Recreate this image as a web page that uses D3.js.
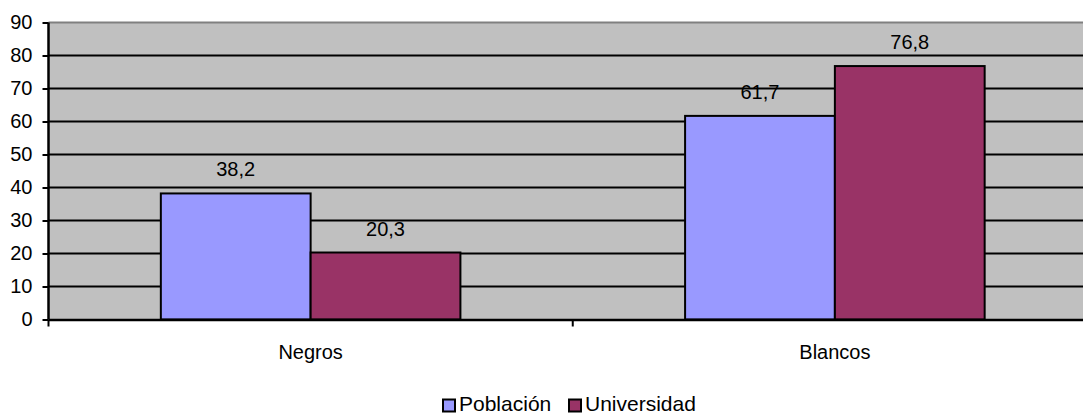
<!DOCTYPE html>
<html>
<head>
<meta charset="utf-8">
<script src="https://cdn.jsdelivr.net/npm/d3@7"></script>
<style>
  body { margin: 0; background: #fff; }
  svg { display: block; font-family: "Liberation Sans", Arial, sans-serif; }
</style>
</head>
<body>
<svg id="chart" width="1083" height="416"></svg>
<script>
const categories = ["Negros", "Blancos"];
const seriesNames = ["Población", "Universidad"];
const poblacion = [38.2, 61.7];
const universidad = [20.3, 76.8];
const yTicks = [0, 10, 20, 30, 40, 50, 60, 70, 80, 90];
const colors = ["#9999FF", "#993366"];

(function () {
const svg = d3.select("#chart");
const mLeft = 48.5, mRight = 1097, mTop = 22.5, mBottom = 319.5;

const x0 = d3.scaleBand().domain(categories).range([mLeft, mRight]).paddingInner(0).paddingOuter(0);
const x1 = d3.scaleBand().domain(seriesNames).range([0, x0.bandwidth()]).paddingInner(0).paddingOuter(0.75);
const y = d3.scaleLinear().domain([0, 90]).range([mBottom, mTop]);
const color = d3.scaleOrdinal().domain(seriesNames).range(colors);

const data = categories.map((c, i) => ({
  category: c,
  values: [
    { series: seriesNames[0], value: poblacion[i] },
    { series: seriesNames[1], value: universidad[i] }
  ]
}));

// plot background
svg.append("rect").attr("x", mLeft).attr("y", mTop).attr("width", mRight - mLeft).attr("height", mBottom - mTop)
  .attr("fill", "#C0C0C0");
// top border
svg.append("line").attr("x1", mLeft).attr("x2", mRight).attr("y1", mTop).attr("y2", mTop)
  .attr("stroke", "#808080").attr("stroke-width", 2);

// gridlines
svg.append("g").selectAll("line").data(yTicks.filter(t => t > 0 && t < 90)).join("line")
  .attr("x1", mLeft).attr("x2", mRight)
  .attr("y1", d => y(d)).attr("y2", d => y(d))
  .attr("stroke", "#000").attr("stroke-width", 2);

// bars
const groups = svg.append("g").selectAll("g").data(data).join("g")
  .attr("transform", d => `translate(${x0(d.category)},0)`);
groups.selectAll("rect").data(d => d.values).join("rect")
  .attr("x", d => x1(d.series))
  .attr("y", d => y(d.value))
  .attr("width", x1.bandwidth())
  .attr("height", d => y(0) - y(d.value))
  .attr("fill", d => color(d.series))
  .attr("stroke", "#000").attr("stroke-width", 2);

// value labels
groups.selectAll("text").data(d => d.values).join("text")
  .attr("x", d => x1(d.series) + x1.bandwidth() / 2)
  .attr("y", d => y(d.value) - 17)
  .attr("text-anchor", "middle")
  .attr("font-size", 20)
  .attr("fill", "#000")
  .text(d => String(d.value).replace(".", ","));

// y axis
const yAxis = d3.axisLeft(y).tickValues(yTicks).tickSize(6).tickPadding(10).tickFormat(d3.format("d"));
const gy = svg.append("g").attr("transform", `translate(${mLeft},0)`).call(yAxis);
gy.select(".domain").attr("stroke", "#000").attr("stroke-width", 2.5).attr("d", `M0,${mTop}V${mBottom}`);
gy.selectAll(".tick line").attr("stroke", "#000").attr("stroke-width", 2);
gy.selectAll(".tick text").attr("font-size", 20).attr("font-family", "Liberation Sans, Arial, sans-serif").attr("fill", "#000");

// x axis
const xAxis = d3.axisBottom(x0).tickSize(0).tickPadding(25);
const gx = svg.append("g").attr("transform", `translate(0,${mBottom})`).call(xAxis);
gx.select(".domain").attr("stroke", "#000").attr("stroke-width", 2.5);
gx.selectAll(".tick text").attr("font-size", 20).attr("font-family", "Liberation Sans, Arial, sans-serif").attr("fill", "#000");
// category boundary ticks
const bounds = [mLeft].concat(categories.map(c => x0(c) + x0.bandwidth()));
svg.append("g").selectAll("line").data(bounds).join("line")
  .attr("x1", d => d).attr("x2", d => d)
  .attr("y1", mBottom).attr("y2", mBottom + 7)
  .attr("stroke", "#000").attr("stroke-width", 2);

// legend
const legend = svg.append("g");
const legendItems = [
  { name: seriesNames[0], x: 443 },
  { name: seriesNames[1], x: 569 }
];
legendItems.forEach(it => {
  legend.append("rect").attr("x", it.x).attr("y", 399.5).attr("width", 12).attr("height", 12)
    .attr("fill", color(it.name)).attr("stroke", "#000").attr("stroke-width", 2);
  legend.append("text").attr("x", it.x + 16).attr("y", 411)
    .attr("font-size", 21).attr("fill", "#000").text(it.name);
});
})();
</script>
</body>
</html>
